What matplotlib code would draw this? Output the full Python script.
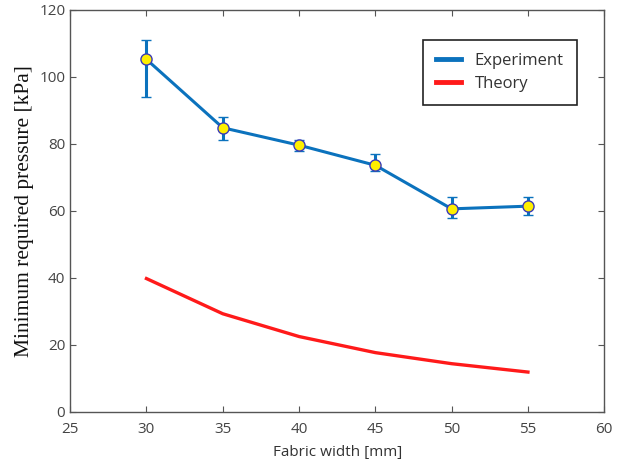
#!/usr/bin/env python3
"""
Minimum required pressure vs fabric width: experiment with error bars and theory curve
"""
import matplotlib
matplotlib.use('Agg')
import matplotlib.pyplot as plt

width_mm = [30, 35, 40, 45, 50, 55]
exp_kpa = [105.2, 84.8, 79.6, 73.6, 60.6, 61.4]
exp_low = [94.0, 81.0, 77.8, 72.0, 57.8, 58.8]
exp_high = [111.0, 88.0, 81.2, 77.0, 64.0, 64.0]
theory_kpa = [39.8, 29.3, 22.5, 17.7, 14.4, 11.9]

blue = '#0b72bd'
red = '#ff1a1a'
grey = '#555555'

err_lo = [v - lo for v, lo in zip(exp_kpa, exp_low)]
err_hi = [hi - v for v, hi in zip(exp_kpa, exp_high)]

fig = plt.figure(figsize=(6.21, 4.66), dpi=100)
ax = fig.add_axes([0.113, 0.116, 0.860, 0.863])

ax.errorbar(width_mm, exp_kpa, yerr=[err_lo, err_hi], color=blue, lw=2.2,
            elinewidth=2.2, capsize=3.5, capthick=2.2, marker='o', ms=8,
            mfc='#ffef00', mec='#3a3ab8', mew=1.0, label='Experiment', zorder=3)
ax.plot(width_mm, theory_kpa, color=red, lw=2.4, label='Theory', zorder=2)

ax.set_xlim(25, 60)
ax.set_ylim(0, 120)
ax.set_xticks(range(25, 61, 5))
ax.set_yticks(range(0, 121, 20))

for side in ax.spines.values():
    side.set_color(grey)
    side.set_linewidth(1.0)
ax.tick_params(direction='in', length=4, colors=grey, labelcolor='#444444',
               labelsize=11, top=True, right=True)
ax.tick_params(axis='x', pad=7)
for lab in ax.get_xticklabels() + ax.get_yticklabels():
    lab.set_family('Open Sans')

ax.set_xlabel('Fabric width [mm]', fontsize=11, family='Open Sans', color='#333333',
              labelpad=6)
ax.set_ylabel('Minimum required pressure [kPa]', fontsize=15.5,
              family='Liberation Serif', color='#111111', labelpad=4)

# legend with line handles only, MATLAB-like box
handles = [plt.Line2D([], [], color=blue, lw=3.5), plt.Line2D([], [], color=red, lw=3.5)]
leg = ax.legend(handles, ['Experiment', 'Theory'], loc='upper right',
                bbox_to_anchor=(0.949, 0.925), borderaxespad=0, fancybox=False,
                framealpha=1, edgecolor='#222222', handlelength=1.5,
                handletextpad=0.8, borderpad=0.8, labelspacing=0.4,
                prop={'family': 'Open Sans', 'size': 12})
leg.get_frame().set_linewidth(1.2)
for t in leg.get_texts():
    t.set_color('#333333')

fig.savefig('out.png', dpi=100)
